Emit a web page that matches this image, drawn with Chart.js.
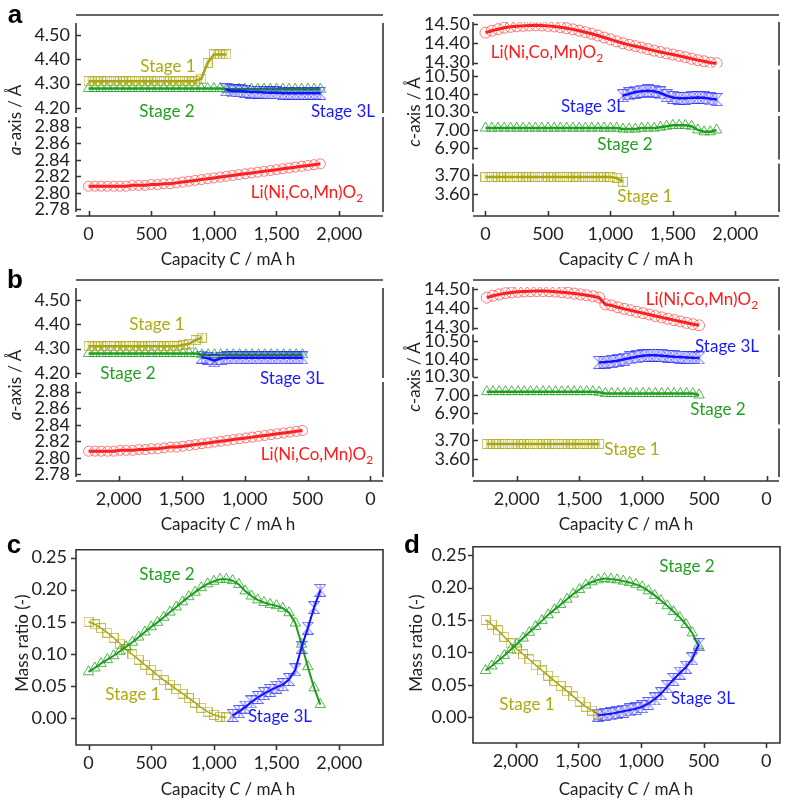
<!DOCTYPE html>
<html>
<head>
<meta charset="utf-8">
<script src="https://cdn.jsdelivr.net/npm/chart.js@4.4.1/dist/chart.umd.min.js"></script>
<style>
body { margin: 0; background: #fff; width: 787px; height: 800px; position: relative; overflow: hidden; font-family: Lato, sans-serif; color: #222; }
canvas { position: absolute; }
.lbl { position: absolute; transform: translate(-50%, -50%); white-space: nowrap; font-size: 17px; }
.ytl { position: absolute; transform: translate(-50%, -50%) rotate(-90deg); white-space: nowrap; font-size: 17px; }
.pl { position: absolute; transform: translate(-50%, -50%); font: bold 26px "Liberation Sans", Arial, sans-serif; color: #000; }
sub { font-size: 12px; }
.s1 { color: #aeaa12; } .s2 { color: #22a022; } .s3 { color: #1a1aff; } .li { color: #ff1a1a; }
</style>
</head>
<body>
<canvas id="aL" width="390" height="265" style="left:0;top:0"></canvas>
<canvas id="aR" width="397" height="265" style="left:390px;top:0"></canvas>
<canvas id="bL" width="390" height="265" style="left:0;top:265px"></canvas>
<canvas id="bR" width="397" height="265" style="left:390px;top:265px"></canvas>
<canvas id="cM" width="390" height="270" style="left:0;top:530px"></canvas>
<canvas id="dM" width="397" height="270" style="left:390px;top:530px"></canvas>

<div class="pl" style="left:15px;top:14px">a</div>
<div class="pl" style="left:15px;top:279px">b</div>
<div class="pl" style="left:14px;top:544px">c</div>
<div class="pl" style="left:412px;top:544px">d</div>

<div class="ytl" style="left:14px;top:120px"><i>a</i>-axis / Å</div>
<div class="ytl" style="left:413px;top:112px"><i>c</i>-axis / Å</div>
<div class="ytl" style="left:14px;top:385px"><i>a</i>-axis / Å</div>
<div class="ytl" style="left:413px;top:377px"><i>c</i>-axis / Å</div>
<div class="ytl" style="left:21px;top:643px">Mass ratio (-)</div>
<div class="ytl" style="left:415px;top:643px">Mass ratio (-)</div>

<div class="lbl" style="left:228px;top:258px">Capacity <i>C</i> / mA h</div>
<div class="lbl" style="left:626px;top:258px">Capacity <i>C</i> / mA h</div>
<div class="lbl" style="left:228px;top:523px">Capacity <i>C</i> / mA h</div>
<div class="lbl" style="left:626px;top:523px">Capacity <i>C</i> / mA h</div>
<div class="lbl" style="left:228px;top:788px">Capacity <i>C</i> / mA h</div>
<div class="lbl" style="left:626px;top:788px">Capacity <i>C</i> / mA h</div>

<div class="lbl s1" style="left:168px;top:65px">Stage 1</div>
<div class="lbl s2" style="left:167px;top:110px">Stage 2</div>
<div class="lbl s3" style="left:343px;top:110px">Stage 3L</div>
<div class="lbl li" style="left:307px;top:193px">Li(Ni,Co,Mn)O<sub>2</sub></div>

<div class="lbl li" style="left:547px;top:53px">Li(Ni,Co,Mn)O<sub>2</sub></div>
<div class="lbl s3" style="left:593px;top:105px">Stage 3L</div>
<div class="lbl s2" style="left:625px;top:143px">Stage 2</div>
<div class="lbl s1" style="left:645px;top:195px">Stage 1</div>

<div class="lbl s1" style="left:157px;top:323px">Stage 1</div>
<div class="lbl s2" style="left:128px;top:372px">Stage 2</div>
<div class="lbl s3" style="left:292px;top:377px">Stage 3L</div>
<div class="lbl li" style="left:317px;top:455px">Li(Ni,Co,Mn)O<sub>2</sub></div>

<div class="lbl li" style="left:702px;top:300px">Li(Ni,Co,Mn)O<sub>2</sub></div>
<div class="lbl s3" style="left:727px;top:345px">Stage 3L</div>
<div class="lbl s2" style="left:718px;top:408px">Stage 2</div>
<div class="lbl s1" style="left:632px;top:448px">Stage 1</div>

<div class="lbl s2" style="left:167px;top:573px">Stage 2</div>
<div class="lbl s1" style="left:133px;top:693px">Stage 1</div>
<div class="lbl s3" style="left:280px;top:715px">Stage 3L</div>

<div class="lbl s2" style="left:687px;top:565px">Stage 2</div>
<div class="lbl s1" style="left:527px;top:703px">Stage 1</div>
<div class="lbl s3" style="left:703px;top:697px">Stage 3L</div>

<script>
// capacities (mA h)
const capCharge = [0, 50, 100, 150, 200, 250, 300, 350, 400, 450, 500, 550, 600, 650, 700, 750, 800, 850, 900, 950,
  1000, 1050, 1100, 1150, 1200, 1250, 1300, 1350, 1400, 1450, 1500, 1550, 1600, 1650, 1700, 1750, 1800, 1850];
const capChargeS1 = [0, 50, 100, 150, 200, 250, 300, 350, 400, 450, 500, 550, 600, 650, 700, 750, 800, 850, 900, 950, 1000, 1050, 1100];
const capChargeS3 = [1100, 1150, 1200, 1250, 1300, 1350, 1400, 1450, 1500, 1550, 1600, 1650, 1700, 1750, 1800, 1850];
const capChargeS3Mass = [1150, 1200, 1250, 1300, 1350, 1400, 1450, 1500, 1550, 1600, 1650, 1700, 1750, 1800, 1850];
const capDischarge = [2240, 2190, 2140, 2090, 2040, 1990, 1940, 1890, 1840, 1790, 1740, 1690, 1640, 1590, 1540, 1490, 1440, 1390,
  1340, 1290, 1240, 1190, 1140, 1090, 1040, 990, 940, 890, 840, 790, 740, 690, 640, 590, 540];
const capDischargeS1 = [2240, 2190, 2140, 2090, 2040, 1990, 1940, 1890, 1840, 1790, 1740, 1690, 1640, 1590, 1540, 1490, 1440, 1390, 1340];
const capDischargeS3 = [1340, 1290, 1240, 1190, 1140, 1090, 1040, 990, 940, 890, 840, 790, 740, 690, 640, 590, 540];

// a-axis, charge
const aLiCharge = [2.808, 2.808, 2.808, 2.808, 2.808, 2.808, 2.808, 2.809, 2.809, 2.809, 2.810, 2.810, 2.811, 2.811, 2.812, 2.813, 2.814, 2.815, 2.816,
  2.817, 2.818, 2.819, 2.820, 2.821, 2.822, 2.823, 2.824, 2.825, 2.826, 2.827, 2.828, 2.829, 2.830, 2.831, 2.832, 2.833, 2.834, 2.835];
const aS1Charge = [4.31, 4.31, 4.31, 4.31, 4.31, 4.31, 4.31, 4.31, 4.31, 4.31, 4.31, 4.31, 4.31, 4.31, 4.31, 4.31, 4.31, 4.31, 4.32, 4.385, 4.42, 4.42, 4.42];
const aS2Charge = [4.28, 4.28, 4.28, 4.28, 4.28, 4.28, 4.28, 4.28, 4.28, 4.28, 4.28, 4.28, 4.28, 4.28, 4.28, 4.28, 4.28, 4.28, 4.28, 4.28, 4.28, 4.28,
  4.277, 4.277, 4.277, 4.277, 4.277, 4.277, 4.277, 4.277, 4.277, 4.277, 4.277, 4.277, 4.277, 4.277, 4.277, 4.277];
const aS3Charge = [4.275, 4.27, 4.27, 4.268, 4.265, 4.265, 4.263, 4.262, 4.262, 4.26, 4.26, 4.26, 4.26, 4.26, 4.26, 4.26];

// c-axis, charge
const cLiCharge = [14.455, 14.465, 14.473, 14.48, 14.485, 14.488, 14.49, 14.492, 14.493, 14.492, 14.49, 14.487, 14.483, 14.478, 14.472, 14.465,
  14.457, 14.449, 14.44, 14.43, 14.42, 14.41, 14.40, 14.392, 14.385, 14.378, 14.37, 14.362, 14.355, 14.348, 14.342, 14.335, 14.328, 14.32,
  14.313, 14.307, 14.30, 14.297];
const cS3Charge = [10.39, 10.40, 10.41, 10.415, 10.418, 10.415, 10.405, 10.39, 10.38, 10.375, 10.375, 10.378, 10.38, 10.378, 10.372, 10.368];
const cS2Charge = [7.01, 7.01, 7.01, 7.01, 7.01, 7.01, 7.01, 7.01, 7.01, 7.01, 7.01, 7.01, 7.01, 7.01, 7.01, 7.01, 7.01, 7.01, 7.01, 7.01, 7.01, 7.01,
  7.005, 7.005, 7.005, 7.01, 7.01, 7.01, 7.015, 7.02, 7.025, 7.025, 7.025, 7.02, 7.00, 6.99, 6.99, 7.00];
const cS1Charge = [3.69, 3.69, 3.69, 3.69, 3.69, 3.69, 3.69, 3.69, 3.69, 3.69, 3.69, 3.69, 3.69, 3.69, 3.69, 3.69, 3.69, 3.69, 3.69, 3.69, 3.69, 3.685, 3.665];

// a-axis, discharge
const aLiDischarge = [2.808, 2.808, 2.808, 2.808, 2.808, 2.809, 2.809, 2.809, 2.810, 2.810, 2.811, 2.811, 2.812, 2.813, 2.813, 2.814, 2.815, 2.816,
  2.817, 2.818, 2.819, 2.820, 2.821, 2.822, 2.823, 2.824, 2.825, 2.826, 2.827, 2.828, 2.829, 2.830, 2.831, 2.832, 2.833];
const aS1Discharge = [4.31, 4.31, 4.31, 4.31, 4.31, 4.31, 4.31, 4.31, 4.31, 4.31, 4.31, 4.31, 4.31, 4.31, 4.31, 4.315, 4.32, 4.335, 4.345];
const aS2Discharge = [4.28, 4.28, 4.28, 4.28, 4.28, 4.28, 4.28, 4.28, 4.28, 4.28, 4.28, 4.28, 4.28, 4.28, 4.28, 4.28, 4.28, 4.28,
  4.275, 4.275, 4.275, 4.275, 4.275, 4.275, 4.275, 4.275, 4.275, 4.275, 4.275, 4.275, 4.275, 4.275, 4.275, 4.275, 4.275];
const aS3Discharge = [4.265, 4.26, 4.25, 4.26, 4.262, 4.262, 4.262, 4.262, 4.262, 4.262, 4.262, 4.262, 4.262, 4.262, 4.262, 4.262, 4.262];

// c-axis, discharge
const cLiDischarge = [14.455, 14.465, 14.472, 14.478, 14.482, 14.485, 14.487, 14.488, 14.489, 14.489, 14.488, 14.486, 14.483, 14.48, 14.476,
  14.472, 14.467, 14.462, 14.455, 14.42, 14.415, 14.405, 14.397, 14.39, 14.382, 14.375, 14.368, 14.36, 14.353, 14.346, 14.339, 14.332,
  14.325, 14.318, 14.312];
const cS3Discharge = [10.38, 10.382, 10.385, 10.39, 10.398, 10.405, 10.412, 10.417, 10.42, 10.42, 10.418, 10.415, 10.412, 10.41, 10.408, 10.406, 10.405];
const cS2Discharge = [7.018, 7.018, 7.018, 7.018, 7.018, 7.018, 7.018, 7.018, 7.018, 7.018, 7.018, 7.018, 7.018, 7.018, 7.018, 7.018, 7.018, 7.018,
  7.015, 7.008, 7.008, 7.008, 7.008, 7.008, 7.008, 7.008, 7.008, 7.008, 7.008, 7.008, 7.008, 7.008, 7.008, 7.008, 7.00];
const cS1Discharge = [3.68, 3.68, 3.68, 3.68, 3.68, 3.68, 3.68, 3.68, 3.68, 3.68, 3.68, 3.68, 3.68, 3.68, 3.68, 3.68, 3.68, 3.68, 3.68];

// mass ratio
const mS1Charge = [0.150, 0.146, 0.140, 0.133, 0.125, 0.116, 0.107, 0.099, 0.091, 0.083, 0.075, 0.067, 0.059, 0.052, 0.045, 0.038, 0.031,
  0.024, 0.016, 0.010, 0.005, 0.002, 0.001];
const mS2Charge = [0.072, 0.078, 0.085, 0.091, 0.097, 0.104, 0.111, 0.118, 0.126, 0.134, 0.142, 0.149, 0.157, 0.165, 0.173, 0.181, 0.189,
  0.196, 0.203, 0.209, 0.213, 0.216, 0.216, 0.214, 0.208, 0.198, 0.190, 0.184, 0.180, 0.177, 0.175, 0.171, 0.164, 0.148, 0.115, 0.080, 0.047, 0.021];
const mS3Charge = [0.004, 0.010, 0.017, 0.025, 0.032, 0.038, 0.043, 0.048, 0.052, 0.060, 0.075, 0.110, 0.140, 0.172, 0.199];
const mS1Discharge = [0.150, 0.143, 0.134, 0.124, 0.114, 0.105, 0.097, 0.089, 0.080, 0.072, 0.064, 0.056, 0.048, 0.040, 0.032, 0.024, 0.016, 0.010, 0.004];
const mS2Discharge = [0.072, 0.079, 0.087, 0.095, 0.104, 0.113, 0.122, 0.131, 0.140, 0.149, 0.158, 0.166, 0.174, 0.182, 0.190, 0.197, 0.204,
  0.209, 0.212, 0.214, 0.213, 0.212, 0.210, 0.208, 0.205, 0.201, 0.195, 0.188, 0.180, 0.172, 0.163, 0.154, 0.143, 0.130, 0.110];
const mS3Discharge = [0.003, 0.004, 0.005, 0.007, 0.009, 0.011, 0.013, 0.016, 0.021, 0.028, 0.036, 0.047, 0.058, 0.068, 0.077, 0.090, 0.112];

// tick labels
const capTicks = [0, 500, 1000, 1500, 2000];
const aTicksHigh = [4.20, 4.30, 4.40, 4.50];
const aTicksLow = [2.78, 2.80, 2.82, 2.84, 2.86, 2.88];
const cTicks14 = [14.30, 14.40, 14.50];
const cTicks10 = [10.30, 10.40, 10.50];
const cTicks7 = [6.90, 7.00];
const cTicks3 = [3.60, 3.70];
const massTicks = [0, 0.05, 0.10, 0.15, 0.20, 0.25];

const RED = '#ff1a1a', OLIVE = '#aaa612', GREEN = '#1e9e1e', BLUE = '#1010ff';
const RED_M = 'rgba(255,50,50,0.65)', OLIVE_M = 'rgba(170,166,18,0.75)', GREEN_M = 'rgba(30,158,30,0.75)', BLUE_M = 'rgba(30,30,255,0.7)';

function marker(kind, color, bar) {
    const c = document.createElement('canvas');
    const w = kind === 'hour' ? 12 : 10, h = kind === 'hour' ? 13 : 10;
    c.width = w; c.height = h;
    const g = c.getContext('2d');
    g.strokeStyle = color;
    g.lineWidth = 1;
    g.beginPath();
    if (kind === 'hour') {
        g.moveTo(0.5, 0.5); g.lineTo(w - 0.5, 0.5); g.lineTo(0.5, h - 0.5); g.lineTo(w - 0.5, h - 0.5); g.closePath();
    } else {
        g.rect(0.5, 0.5, w - 1, h - 1);
    }
    if (bar) { g.moveTo(w / 2, 0.5); g.lineTo(w / 2, h - 0.5); }
    g.stroke();
    return c;
}

function series(xs, ys, color, markColor, style, radius, yAxisID, lw) {
    return {
        data: xs.map((x, i) => ({ x: x, y: ys[i] })),
        borderColor: color,
        borderWidth: lw,
        pointStyle: style,
        pointRadius: radius,
        pointBorderColor: markColor,
        pointBackgroundColor: 'rgba(0,0,0,0)',
        pointBorderWidth: 1,
        yAxisID: yAxisID,
        tension: 0
    };
}

// axis lines and inward/outward ticks, broken axes
const framePlugin = {
    id: 'frame',
    afterDraw(chart, args, o) {
        const ctx = chart.ctx, a = chart.chartArea;
        const ys = Object.values(chart.scales).filter(s => s.axis === 'y');
        const xs = chart.scales.x;
        ctx.save();
        ctx.strokeStyle = '#333';
        ctx.lineWidth = 1.6;
        ctx.beginPath();
        if (o.box) {
            ctx.rect(a.left, a.top, a.right - a.left, a.bottom - a.top);
        } else {
            ctx.moveTo(a.left, o.topY); ctx.lineTo(a.right, o.topY);
            ctx.moveTo(a.left, a.bottom); ctx.lineTo(a.right, a.bottom);
            ys.forEach(s => {
                const t = s.top + (s.top > a.top + 1 ? 2 : 0);
                const b = s.bottom - (s.bottom < a.bottom - 1 ? 2 : 4);
                ctx.moveTo(a.left, t); ctx.lineTo(a.left, b);
                ctx.moveTo(a.right, t); ctx.lineTo(a.right, b);
            });
        }
        const d = o.tickOut ? -1 : 1, L = 5;
        ys.forEach(s => s.ticks.forEach(t => {
            const y = Math.round(s.getPixelForValue(t.value)) + 0.5;
            ctx.moveTo(a.left, y); ctx.lineTo(a.left + d * L, y);
        }));
        xs.ticks.forEach(t => {
            const x = Math.round(xs.getPixelForValue(t.value)) + 0.5;
            ctx.moveTo(x, a.bottom); ctx.lineTo(x, a.bottom - d * L);
        });
        ctx.stroke();
        ctx.restore();
    }
};

const tickFont = { family: 'Lato', size: 18 };

function makeChart(id, o, datasets) {
    const scales = {
        x: {
            type: 'linear', min: o.xMin, max: o.xMax, reverse: !!o.rev,
            afterFit: s => { s.height = o.xH; },
            afterBuildTicks: s => { s.ticks = capTicks.map(v => ({ value: v })); },
            grid: { display: false, drawTicks: false }, border: { display: false },
            ticks: { padding: 7, color: '#222', font: tickFont, autoSkip: false, maxRotation: 0,
                callback: v => v.toLocaleString('en-US') }
        }
    };
    // later scales are stacked on top, so add bottom segment first
    o.segs.slice().reverse().forEach(sg => {
        scales[sg.id] = {
            type: 'linear', position: 'left',
            stack: o.segs.length > 1 ? 'ys' : undefined, stackWeight: sg.w,
            min: sg.min, max: sg.max,
            afterFit: s => { s.width = o.yW; },
            afterBuildTicks: s => { s.ticks = sg.ticks.map(v => ({ value: v })); },
            grid: { display: false, drawTicks: false }, border: { display: false },
            ticks: { padding: o.yPad, color: '#222', font: tickFont, autoSkip: false, callback: v => v.toFixed(2) }
        };
    });
    return new Chart(document.getElementById(id), {
        type: 'line',
        data: { datasets: datasets },
        options: {
            responsive: false, animation: false, devicePixelRatio: 1,
            layout: { padding: { top: o.padTop, right: o.padRight, left: 0, bottom: 0 } },
            plugins: { legend: { display: false }, tooltip: { enabled: false },
                frame: { box: o.box, tickOut: o.tickOut, topY: o.topY } },
            scales: scales
        },
        plugins: [framePlugin]
    });
}

function init() {
    const sqBar = marker('sq', OLIVE_M, true);
    const sq = marker('sq', OLIVE_M, false);
    const hour = marker('hour', BLUE_M, true);

    const aSegs = [
        { id: 'yh', min: 4.171, max: 4.549, w: 92, ticks: aTicksHigh },
        { id: 'yl', min: 2.772, max: 2.894, w: 101, ticks: aTicksLow }
    ];
    const cSegs = [
        { id: 'y14', min: 14.275, max: 14.510, w: 45.5, ticks: cTicks14 },
        { id: 'y10', min: 10.287, max: 10.548, w: 46.5, ticks: cTicks10 },
        { id: 'y7', min: 6.828, max: 7.087, w: 47.5, ticks: cTicks7 },
        { id: 'y3', min: 3.488, max: 3.770, w: 54.5, ticks: cTicks3 }
    ];
    const left = { padTop: 23, padRight: 7, yW: 76, xH: 49, yPad: 6, topY: 15, box: false, tickOut: false };
    const right = { padTop: 22, padRight: 8, yW: 83, xH: 49, yPad: 3, topY: 15, box: false, tickOut: false };

    makeChart('aL', Object.assign({}, left, { xMin: -100, xMax: 2350, segs: aSegs }), [
        series(capChargeS3, aS3Charge, BLUE, BLUE_M, hour, 5, 'yh', 2.5),
        series(capChargeS1, aS1Charge, OLIVE, OLIVE_M, sqBar, 5, 'yh', 2.5),
        series(capCharge, aS2Charge, GREEN, GREEN_M, 'triangle', 6, 'yh', 2.5),
        series(capCharge, aLiCharge, RED, RED_M, 'circle', 5, 'yl', 3)
    ]);
    makeChart('aR', Object.assign({}, right, { xMin: -100, xMax: 2350, segs: cSegs }), [
        series(capCharge, cLiCharge, RED, RED_M, 'circle', 5.5, 'y14', 3),
        series(capChargeS3, cS3Charge, BLUE, BLUE_M, hour, 5, 'y10', 2.5),
        series(capCharge, cS2Charge, GREEN, GREEN_M, 'triangle', 6, 'y7', 2.5),
        series(capChargeS1, cS1Charge, OLIVE, OLIVE_M, sqBar, 5, 'y3', 2.5)
    ]);
    makeChart('bL', Object.assign({}, left, { xMin: -100, xMax: 2340, rev: true, segs: aSegs }), [
        series(capDischargeS3, aS3Discharge, BLUE, BLUE_M, hour, 5, 'yh', 2.5),
        series(capDischargeS1, aS1Discharge, OLIVE, OLIVE_M, sqBar, 5, 'yh', 2.5),
        series(capDischarge, aS2Discharge, GREEN, GREEN_M, 'triangle', 6, 'yh', 2.5),
        series(capDischarge, aLiDischarge, RED, RED_M, 'circle', 5, 'yl', 3)
    ]);
    makeChart('bR', Object.assign({}, right, { xMin: -100, xMax: 2350, rev: true, segs: cSegs }), [
        series(capDischarge, cLiDischarge, RED, RED_M, 'circle', 5.5, 'y14', 3),
        series(capDischargeS3, cS3Discharge, BLUE, BLUE_M, hour, 5, 'y10', 2.5),
        series(capDischarge, cS2Discharge, GREEN, GREEN_M, 'triangle', 6, 'y7', 2.5),
        series(capDischargeS1, cS1Discharge, OLIVE, OLIVE_M, sqBar, 5, 'y3', 2.5)
    ]);
    makeChart('cM', { padTop: 15, padRight: 7, yW: 76, xH: 55, yPad: 9, box: true, tickOut: true,
        xMin: -100, xMax: 2350, segs: [{ id: 'ym', min: -0.042, max: 0.262, w: 1, ticks: massTicks }] }, [
        series(capChargeS3Mass, mS3Charge, BLUE, BLUE_M, hour, 5, 'ym', 2),
        series(capCharge, mS2Charge, GREEN, GREEN_M, 'triangle', 6, 'ym', 2),
        series(capChargeS1, mS1Charge, OLIVE, OLIVE_M, sq, 5, 'ym', 1.5)
    ]);
    makeChart('dM', { padTop: 15, padRight: 7, yW: 83, xH: 57, yPad: 6, box: true, tickOut: true,
        xMin: -110, xMax: 2340, rev: true, segs: [{ id: 'ym', min: -0.04, max: 0.263, w: 1, ticks: massTicks }] }, [
        series(capDischargeS3, mS3Discharge, BLUE, BLUE_M, hour, 5, 'ym', 2),
        series(capDischarge, mS2Discharge, GREEN, GREEN_M, 'triangle', 6, 'ym', 2),
        series(capDischargeS1, mS1Discharge, OLIVE, OLIVE_M, sq, 5, 'ym', 1.5)
    ]);
}

window.onload = init;
</script>
</body>
</html>
